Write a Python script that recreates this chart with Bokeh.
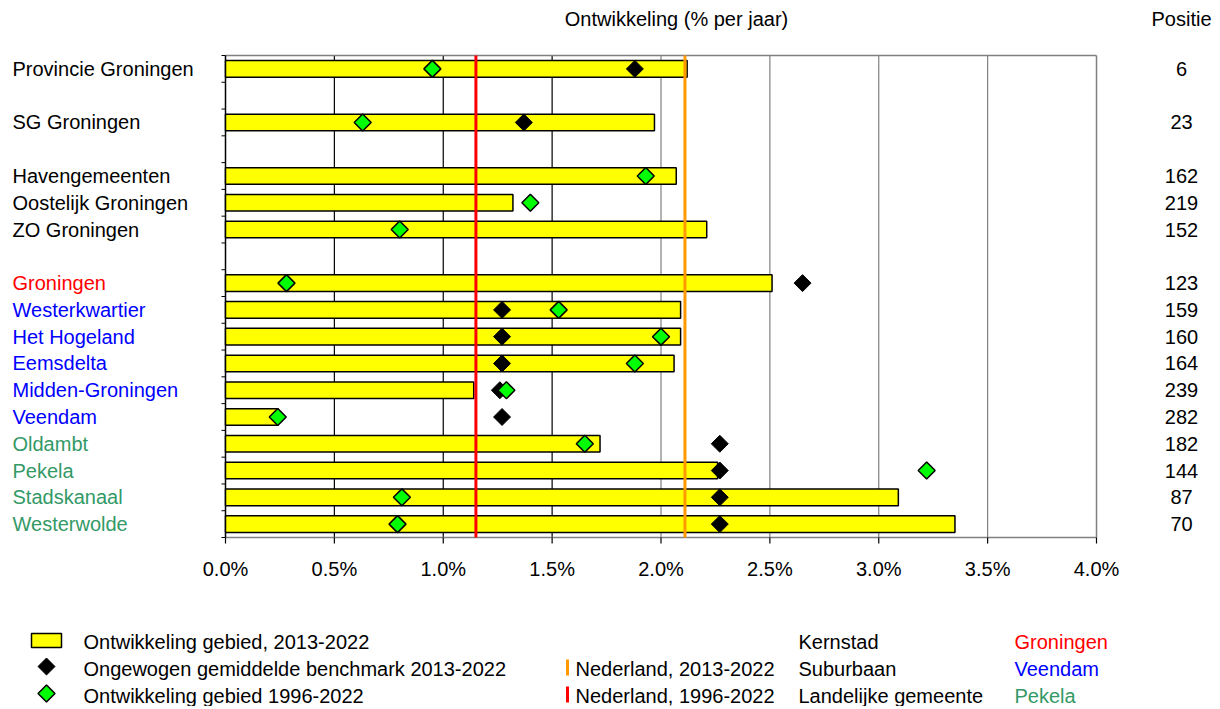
import numpy as np
from bokeh.plotting import figure
from bokeh.models import ColumnDataSource, Range1d
from bokeh.core.properties import value
from bokeh.embed import file_html
from bokeh.resources import INLINE

# ---------------- data ----------------
groups = [
    ["Provincie Groningen"],
    ["SG Groningen"],
    ["Havengemeenten", "Oostelijk Groningen", "ZO Groningen"],
    ["Groningen", "Westerkwartier", "Het Hogeland", "Eemsdelta", "Midden-Groningen",
     "Veendam", "Oldambt", "Pekela", "Stadskanaal", "Westerwolde"],
]
gebied_type = (["regio"] * 5 + ["kernstad"] + ["suburbaan"] * 5 + ["landelijk"] * 4)
ontw_2013_2022 = [2.12, 1.97, 2.07, 1.32, 2.21, 2.51, 2.09, 2.09, 2.06, 1.14, 0.24, 1.72, 2.26, 3.09, 3.35]
ontw_1996_2022 = [0.95, 0.63, 1.93, 1.40, 0.80, 0.28, 1.53, 2.00, 1.88, 1.29, 0.24, 1.65, 3.22, 0.81, 0.79]
benchmark_2013_2022 = [1.88, 1.37, np.nan, np.nan, np.nan, 2.65, 1.27, 1.27, 1.27, 1.26, 1.27, 2.27, 2.27, 2.27, 2.27]
positie = [6, 23, 162, 219, 152, 123, 159, 160, 164, 239, 282, 182, 144, 87, 70]
nederland_2013_2022 = 2.11
nederland_1996_2022 = 1.15
x_ticks = [0.0, 0.5, 1.0, 1.5, 2.0, 2.5, 3.0, 3.5, 4.0]
x_min, x_max = 0.0, 4.0
type_colors = {"regio": "black", "kernstad": "#FF0000", "suburbaan": "#0000FF", "landelijk": "#339966"}

FONT = "Liberation Sans"
FS = "20px"

# row slots (one empty slot between groups)
names, rows = [], []
r = 0
for g in groups:
    for n in g:
        names.append(n)
        rows.append(r)
        r += 1
    r += 1
n_slots = r - 1
y_top, y_bot = -0.5, n_slots - 0.5

# ---------------- page geometry (pixels in the 1220x709 window) ----------------
W, H = 1216, 706
OX, OY = 0, 0                                 # canvas origin in the page
PL, PR, PT, PB = 225, 1096, 55, 537          # plot area in page pixels
sx = (PR - PL) / (x_max - x_min)              # px per %
sy = (PB - PT) / n_slots                      # px per row

def dx(px):
    return x_min + (px - PL) / sx

def dy(py):
    return y_top + (py - PT) / sy

def wx(px):
    return px / sx

def hy(py):
    return py / sy

src = ColumnDataSource(dict(
    name=names, row=rows, v2013=ontw_2013_2022, v1996=ontw_1996_2022,
    bench=benchmark_2013_2022, pos=[str(v) for v in positie],
    color=[type_colors[t] for t in gebied_type],
))

p = figure(width=W, height=H,
           x_range=Range1d(dx(OX), dx(OX + W)), y_range=Range1d(dy(OY + H), dy(OY)),
           output_backend="svg", toolbar_location=None, x_axis_type=None, y_axis_type=None,
           min_border=0, min_border_left=0, min_border_right=0, min_border_top=0, min_border_bottom=0)
p.outline_line_color = None
p.grid.visible = False
p.background_fill_color = "white"
p.border_fill_color = "white"

txt = dict(text_font=value(FONT), text_font_size=FS)

# plot area: grid lines
inner = [t for t in x_ticks if x_min < t < x_max]
dark = [t for t in inner if t < 2.0]
light = [t for t in inner if t >= 2.0]
p.segment(x0=light, y0=y_top, x1=light, y1=y_bot, line_color="#808080", line_width=1.2)
p.segment(x0=dark, y0=y_top, x1=dark, y1=y_bot, line_color="black", line_width=1.2)
# frame
p.segment(x0=[x_min, x_max, x_min], y0=[y_top, y_top, y_bot], x1=[x_max, x_max, x_max],
          y1=[y_top, y_bot, y_bot], line_color="#808080", line_width=1.5)
p.segment(x0=[x_min], y0=[y_top], x1=[x_min], y1=[y_bot], line_color="black", line_width=1.5)

# x axis ticks + labels
p.segment(x0=x_ticks, y0=y_bot, x1=x_ticks, y1=y_bot + hy(6), line_color="black", line_width=1.2)
p.text(x=x_ticks, y=dy(568), text=[f"{t:.1f}%" for t in x_ticks], text_align="center",
       text_baseline="middle", text_color="black", **txt)
# y axis boundary ticks
bounds = [k - 0.5 for k in range(n_slots + 1)]
p.segment(x0=x_min - wx(4), y0=bounds, x1=x_min, y1=bounds, line_color="black", line_width=1)

# bars
p.hbar(y="row", left=x_min, right="v2013", height=0.62, source=src,
       fill_color="#FFFF00", line_color="black", line_width=1.5)

# national reference lines
p.segment(x0=[nederland_1996_2022], y0=y_top, x1=[nederland_1996_2022], y1=y_bot,
          line_color="#FF0000", line_width=3)
p.segment(x0=[nederland_2013_2022], y0=y_top, x1=[nederland_2013_2022], y1=y_bot,
          line_color="#FF9900", line_width=3)

# markers
p.scatter(x="bench", y="row", source=src, marker="square", angle=np.pi / 4, size=12,
          fill_color="black", line_color="black", line_width=1)
p.scatter(x="v1996", y="row", source=src, marker="square", angle=np.pi / 4, size=12,
          fill_color="#00FF00", line_color="black", line_width=1.5)

# category labels and positions
p.text(x=dx(12), y="row", text="name", source=src, text_color="color",
       text_align="left", text_baseline="middle", **txt)
p.text(x=dx(1181), y="row", text="pos", source=src, text_color="black",
       text_align="center", text_baseline="middle", **txt)
p.text(x=[dx(676), dx(1181)], y=dy(18), text=["Ontwikkeling (% per jaar)", "Positie"],
       text_align="center", text_baseline="middle", text_color="black", **txt)

# ---------------- legend ----------------
p.rect(x=[dx(46)], y=[dy(640)], width=wx(30), height=hy(14), fill_color="#FFFF00",
       line_color="black", line_width=1.5)
p.scatter(x=[dx(46)], y=[dy(666)], marker="square", angle=np.pi / 4, size=12,
          fill_color="black", line_color="black")
p.scatter(x=[dx(46)], y=[dy(693)], marker="square", angle=np.pi / 4, size=12,
          fill_color="#00FF00", line_color="black", line_width=1.5)
p.segment(x0=[dx(567)], y0=[dy(659)], x1=[dx(567)], y1=[dy(675)], line_color="#FF9900", line_width=3)
p.segment(x0=[dx(567)], y0=[dy(686)], x1=[dx(567)], y1=[dy(702)], line_color="#FF0000", line_width=3)

leg_x = [83, 83, 83, 575, 575, 798, 798, 798, 1014, 1014, 1014]
leg_y = [641, 668, 695, 668, 695, 641, 668, 695, 641, 668, 695]
leg_text = ["Ontwikkeling gebied, 2013-2022", "Ongewogen gemiddelde benchmark 2013-2022",
            "Ontwikkeling gebied 1996-2022", "Nederland, 2013-2022", "Nederland, 1996-2022",
            "Kernstad", "Suburbaan", "Landelijke gemeente", "Groningen", "Veendam", "Pekela"]
leg_col = ["black"] * 8 + [type_colors["kernstad"], type_colors["suburbaan"], type_colors["landelijk"]]
p.text(x=[dx(v) for v in leg_x], y=[dy(v) for v in leg_y], text=leg_text, text_color=leg_col,
       text_align="left", text_baseline="middle", **txt)

open("out.html", "w").write(file_html(p, INLINE))
